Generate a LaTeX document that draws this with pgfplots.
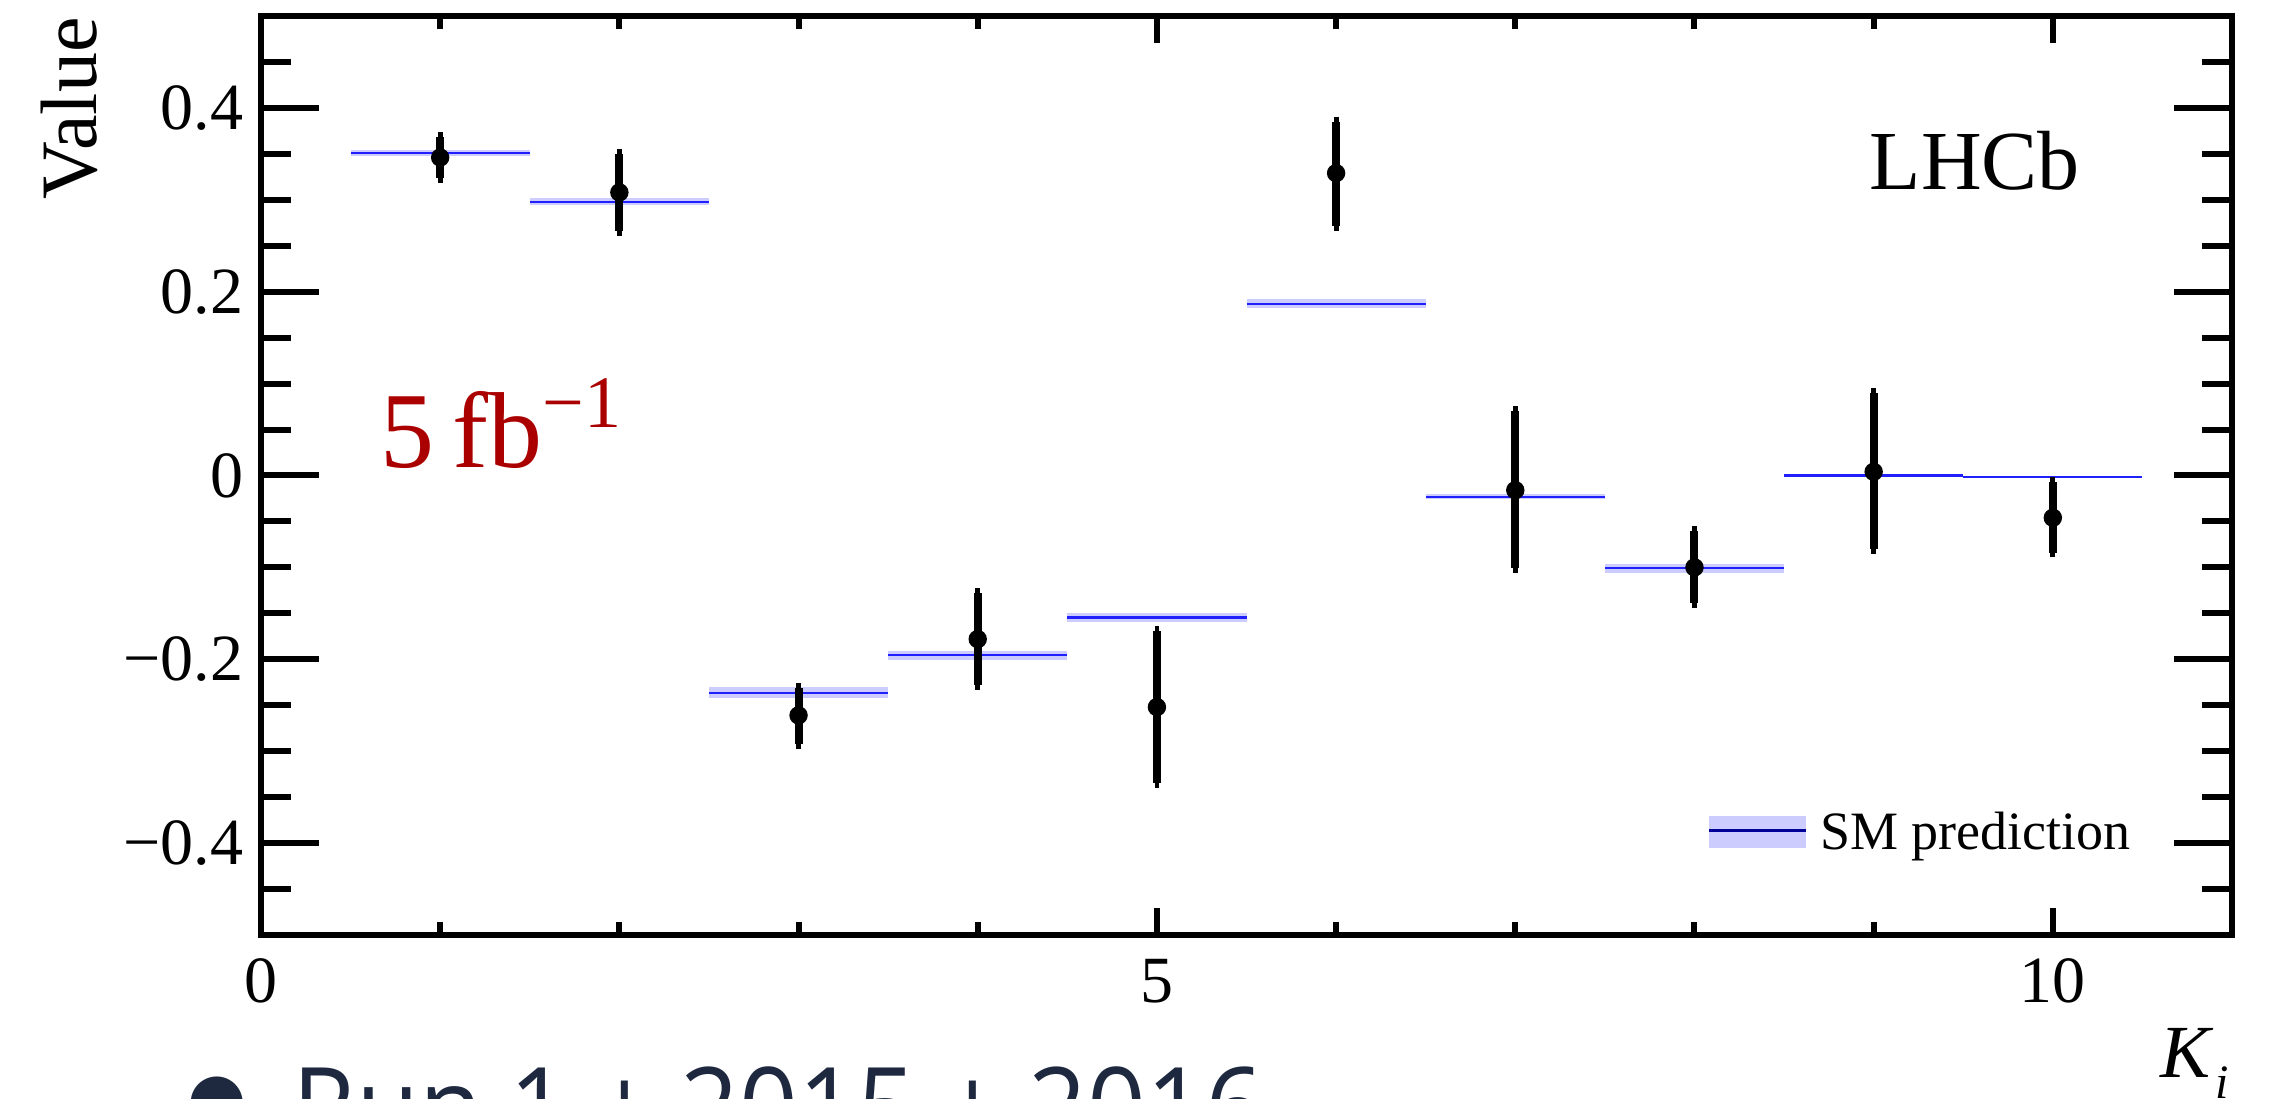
\documentclass[border=0pt]{standalone}
\usepackage{pgfplots}
\pgfplotsset{compat=1.18}
\usepackage{pgfplotstable}
\usepackage{graphicx}
\usepackage{fontspec}
\setmainfont{Liberation Serif}
\newfontfamily\opensans{Open Sans}
\newfontfamily\dejavu{DejaVu Sans}
\definecolor{smband}{HTML}{CCCCFF}
\definecolor{smline}{HTML}{2020FF}
\definecolor{smleg}{HTML}{000099}
\definecolor{lumired}{HTML}{AA0000}
\definecolor{plotlynavy}{HTML}{1E2940}

\pgfplotstableread{
k v ep em
1 0.346 0.022 0.022
2 0.308 0.042 0.042
3 -0.261 0.030 0.031
4 -0.178 0.050 0.050
5 -0.252 0.083 0.083
6 0.329 0.056 0.058
7 -0.016 0.086 0.085
8 -0.100 0.040 0.039
9 0.004 0.086 0.084
10 -0.046 0.039 0.038
}\datatab

\pgfplotstableread{
x y
0.5 0.351
1.5 0.351
nan nan
1.5 0.298
2.5 0.298
nan nan
2.5 -0.2365
3.5 -0.2365
nan nan
3.5 -0.1957
4.5 -0.1957
nan nan
4.5 -0.1545
5.5 -0.1545
nan nan
5.5 0.187
6.5 0.187
nan nan
6.5 -0.023
7.5 -0.023
nan nan
7.5 -0.101
8.5 -0.101
nan nan
8.5 0.000
9.5 0.000
nan nan
9.5 -0.002
10.5 -0.002
}\smtab

\begin{document}
\begin{tikzpicture}
\begin{axis}[
  scale only axis, width=492.75pt, height=229.75pt,
  at={(0pt,0pt)}, anchor=south west,
  xmin=0, xmax=11, ymin=-0.5, ymax=0.5,
  xtick={0,5,10}, xticklabels={0,5,10},
  minor xtick={1,2,3,4,6,7,8,9},
  ytick={-0.4,-0.2,0,0.2,0.4},
  yticklabels={−0.4,−0.2,0,0.2,0.4},
  minor ytick={-0.45,-0.35,-0.3,-0.25,-0.15,-0.1,-0.05,0.05,0.1,0.15,0.25,0.3,0.35,0.45},
  tick align=inside,
  axis line style={line width=1.6pt},
  xtick style={/pgfplots/major tick length=6.75pt, /pgfplots/minor tick length=3.25pt, line width=1.5pt, black},
  ytick style={/pgfplots/major tick length=14.5pt, /pgfplots/minor tick length=7.5pt, line width=1.5pt, black},
  ticklabel style={font=\fontsize{16.5pt}{16.5pt}\selectfont},
  xticklabel style={inner sep=0pt, yshift=-5.75pt},
  yticklabel style={inner sep=0pt, xshift=-4.25pt},
  unbounded coords=jump,
]
% SM prediction bands
\addplot[fill=smband, draw=none] coordinates {(0.5,0.348) (1.5,0.348) (1.5,0.354) (0.5,0.354)};
\addplot[fill=smband, draw=none] coordinates {(1.5,0.294) (2.5,0.294) (2.5,0.302) (1.5,0.302)};
\addplot[fill=smband, draw=none] coordinates {(2.5,-0.2425) (3.5,-0.2425) (3.5,-0.2305) (2.5,-0.2305)};
\addplot[fill=smband, draw=none] coordinates {(3.5,-0.2007) (4.5,-0.2007) (4.5,-0.1907) (3.5,-0.1907)};
\addplot[fill=smband, draw=none] coordinates {(4.5,-0.1595) (5.5,-0.1595) (5.5,-0.1495) (4.5,-0.1495)};
\addplot[fill=smband, draw=none] coordinates {(5.5,0.182) (6.5,0.182) (6.5,0.192) (5.5,0.192)};
\addplot[fill=smband, draw=none] coordinates {(6.5,-0.026) (7.5,-0.026) (7.5,-0.020) (6.5,-0.020)};
\addplot[fill=smband, draw=none] coordinates {(7.5,-0.106) (8.5,-0.106) (8.5,-0.096) (7.5,-0.096)};
\addplot[fill=smband, draw=none] coordinates {(8.5,-0.0012) (9.5,-0.0012) (9.5,0.0012) (8.5,0.0012)};
\addplot[fill=smband, draw=none] coordinates {(9.5,-0.0032) (10.5,-0.0032) (10.5,-0.0008) (9.5,-0.0008)};
% SM central values
\addplot[smline, line width=0.55pt, mark=none] table[x=x, y=y] {\smtab};
% data
\addplot[black, only marks, mark=*, mark size=2.1pt, mark options={fill=black, draw=none},
  error bars/.cd, y dir=both, y explicit,
  error bar style={line width=2pt, black},
  error mark=-, error mark options={line width=1.2pt, mark size=1.2pt, black}]
  table[x=k, y=v, y error plus=ep, y error minus=em] {\datatab};
\end{axis}
% legend
\fill[smband] (362pt,21.85pt) rectangle (386.25pt,29.85pt);
\draw[smleg, line width=0.75pt] (362pt,26.05pt) -- (386.25pt,26.05pt);
\node[anchor=base west, inner sep=0pt, font=\fontsize{13.5pt}{13.5pt}\selectfont] at (389.6pt,21.25pt) {SM prediction};
% labels
\node[anchor=base west, inner sep=0pt, font=\fontsize{21pt}{21pt}\selectfont] at (402pt,186.25pt) {LHCb};
\node[anchor=base west, inner sep=0pt, text=lumired, font=\fontsize{27pt}{27pt}\selectfont] at (29.75pt,116.75pt) {5\,fb\raisebox{10pt}{\fontsize{18.5pt}{18.5pt}\selectfont −1}};
\node[rotate=90, anchor=base east, inner sep=0pt, font=\fontsize{20pt}{20pt}\selectfont] at (-41.1pt,229.6pt) {Value};
\node[anchor=base east, inner sep=0pt, font=\fontsize{18.75pt}{18.75pt}\selectfont] at (492.25pt,-35.75pt) {\textit{K}\hspace{0.5pt}\raisebox{-5.25pt}{\fontsize{12pt}{12pt}\selectfont\textit{i}}};
% cut-off legend of the original page
\node[anchor=center, inner sep=0pt, text=plotlynavy, font=\dejavu\fontsize{17pt}{17pt}\selectfont] at (-10.9pt,-41.9pt) {●};
\node[anchor=base west, inner sep=0pt, text=plotlynavy, font=\opensans\fontsize{27.5pt}{27.5pt}\selectfont] at (7.75pt,-52.9pt) {\resizebox{242.75pt}{\height}{Run 1 + 2015 + 2016}};
\pgfresetboundingbox
\useasboundingbox (-65.25pt,-41pt) rectangle (503.75pt,233.75pt);
\end{tikzpicture}
\end{document}
